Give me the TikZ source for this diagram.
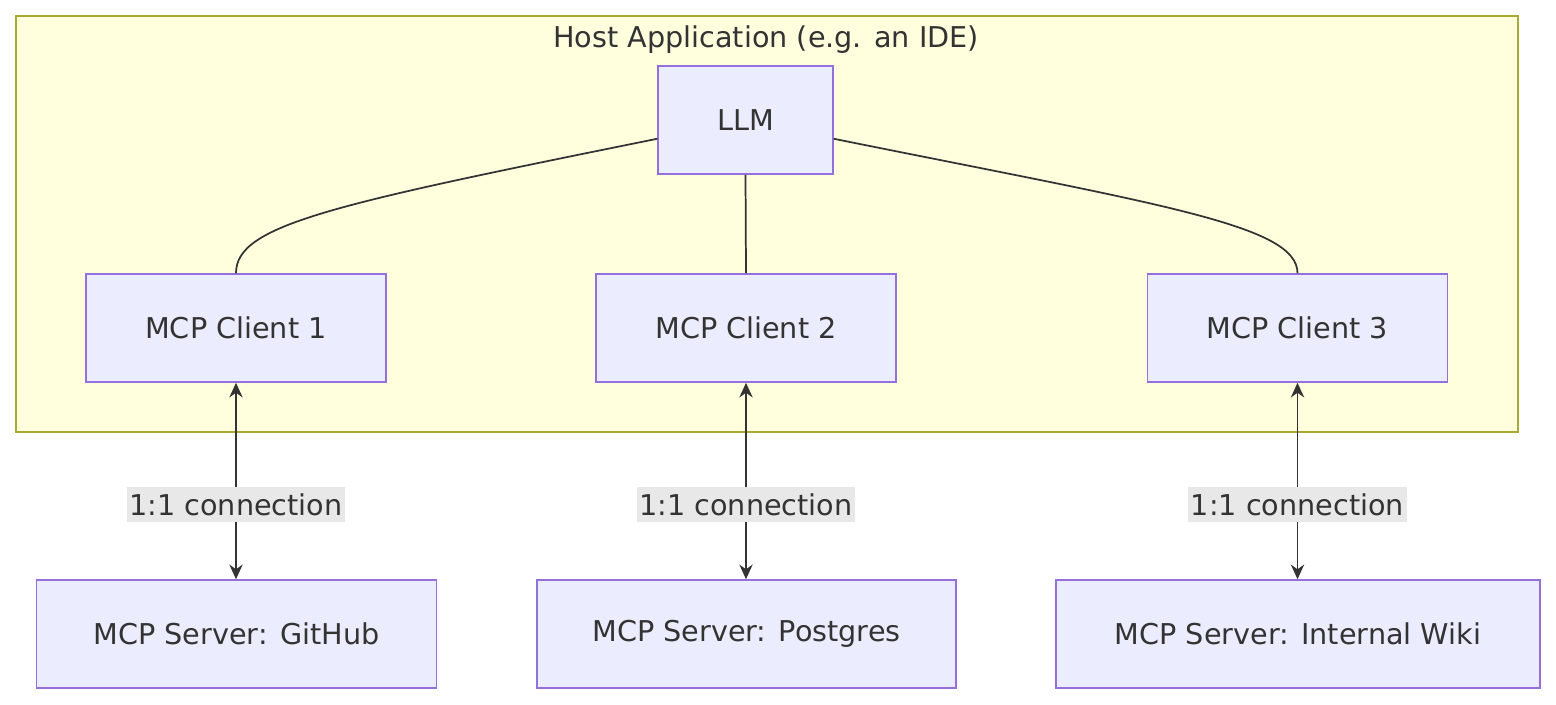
\documentclass[tikz,border=0pt]{standalone}
\usepackage{fontspec}
\setmainfont{DejaVu Sans}
\usetikzlibrary{arrows.meta, positioning}
\definecolor{nodefill}{HTML}{ECECFF}
\definecolor{nodeline}{HTML}{9370DB}
\definecolor{hostfill}{HTML}{FFFFDE}
\definecolor{hostline}{HTML}{AAAA33}
\definecolor{ink}{HTML}{333333}
\definecolor{labelbg}{HTML}{E8E8E8}
\tikzset{
  box/.style={draw=nodeline, fill=nodefill, line width=1.2pt, minimum height=81pt, text=ink, font=\fontsize{21.5}{25}\selectfont},
  link/.style={draw=ink, line width=1.3pt},
  conn/.style={link, {Stealth[length=11pt,width=10pt]}-{Stealth[length=11pt,width=10pt]}},
  tag/.style={fill=labelbg, text=ink, font=\fontsize{21.5}{25}\selectfont, inner xsep=2pt, inner ysep=5pt, pos=0.62}
}
\begin{document}
\begin{tikzpicture}[x=0.75pt, y=-0.75pt]
\useasboundingbox (0,0) rectangle (1556,704);
\draw[draw=hostline, fill=hostfill, line width=1.2pt] (16,16) rectangle (1518,432);
\node[text=ink, font=\fontsize{21.5}{25}\selectfont] (host) at (766,40) {Host Application (e.g. an IDE)};

\node[box, minimum width=131pt] (llm) at (745.5,120) {LLM};
\node[box, minimum width=225pt] (c1) at (236,328) {MCP Client 1};
\node[box, minimum width=225pt] (c2) at (746,328) {MCP Client 2};
\node[box, minimum width=225pt] (c3) at (1297.5,328) {MCP Client 3};
\node[box, minimum width=300pt] (s1) at (236.5,634) {MCP Server: GitHub};
\node[box, minimum width=314pt] (s2) at (746.5,634) {MCP Server: Postgres};
\node[box, minimum width=363pt] (s3) at (1298,634) {MCP Server: Internal Wiki};

\draw[link] (llm.192) .. controls (330,205) and (236,225) .. (c1.north);
\draw[link] (llm.south) -- (c2.north);
\draw[link] (llm.-12) .. controls (1162,205) and (1297.5,225) .. (c3.north);

\draw[conn] (c1.south) -- node[tag] {1:1 connection} (c1.south |- s1.north);
\draw[conn] (c2.south) -- node[tag] {1:1 connection} (c2.south |- s2.north);
\draw[conn] (c3.south) -- node[tag] {1:1 connection} (c3.south |- s3.north);
\end{tikzpicture}
\end{document}
